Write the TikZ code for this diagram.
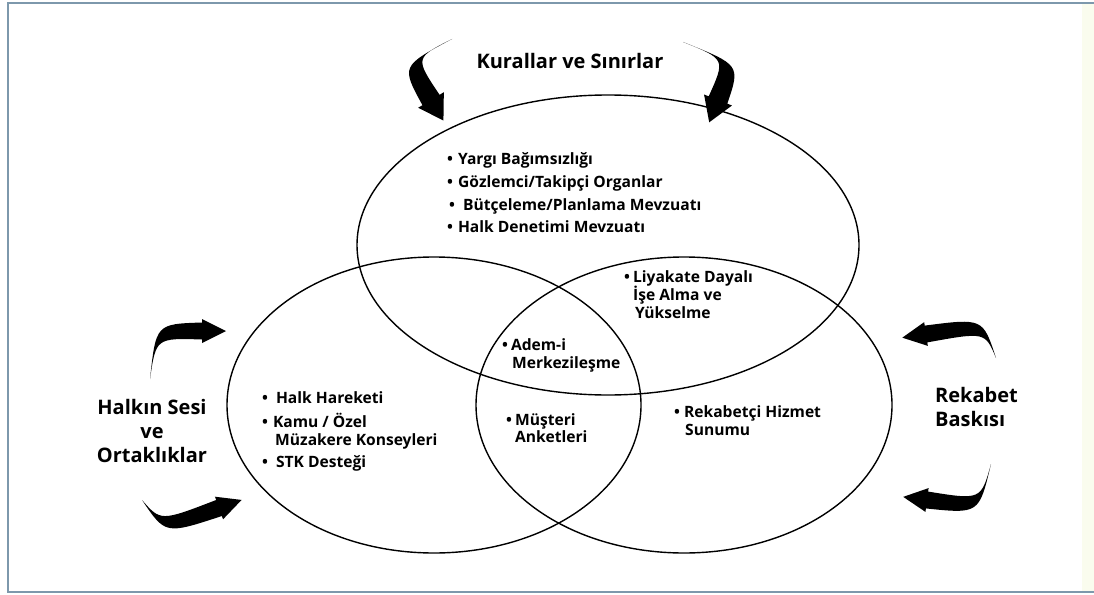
\documentclass[tikz,border=0pt]{standalone}
\usepackage{fontspec}
\setmainfont{Open Sans}
\usetikzlibrary{calc,shapes.geometric}
\definecolor{frame}{RGB}{125,152,172}
\definecolor{strip}{RGB}{250,252,238}
\newcommand\tarrow[7]{% tail, control, head base, body half width, control half width, head half width, head length
  \fill (#1) .. controls ($(#2)!#5!-90:(#3)$) .. ($(#3)!#4!90:(#2)$)
    -- ($(#3)!#6!90:(#2)$) -- ($(#3)!-#7!(#2)$) -- ($(#3)!#6!-90:(#2)$)
    -- ($(#3)!#4!-90:(#2)$) .. controls ($(#2)!#5!90:(#3)$) .. (#1) -- cycle;}
\begin{document}
\begin{tikzpicture}[x=1pt,y=-1pt,
  circ/.style={ellipse,draw,line width=1.4pt,inner sep=0pt},
  item/.style={font=\fontsize{15.6}{19}\selectfont\bfseries,inner sep=0pt,anchor=base west},
  lbl/.style={font=\fontsize{20}{24}\selectfont\bfseries,inner sep=0pt,anchor=base}]
\useasboundingbox (0,0) rectangle (1094,594);
\fill[strip] (1082,4) rectangle (1094,591);
\draw[frame,line width=2pt] (1094,3) -- (8,3) -- (8,592) -- (1094,592);
% circles
\node[circ,minimum width=502pt,minimum height=300pt] (top) at (608,245) {};
\node[circ,minimum width=414pt,minimum height=296pt] (left) at (434,405) {};
\node[circ,minimum width=416pt,minimum height=296pt] (right) at (684,405) {};
% title and side labels
\node[lbl] (title) at (570,68) {Kurallar ve Sınırlar};
\node[lbl] (hs1) at (152,414) {Halkın Sesi};
\node[lbl] (hs2) at (152,438) {ve};
\node[lbl] (hs3) at (152,462) {Ortaklıklar};
\node[item,font=\fontsize{20}{24}\selectfont\bfseries] (rb1) at (935,402) {Rekabet};
\node[item,font=\fontsize{20}{24}\selectfont\bfseries] (rb2) at (935,426) {Baskısı};
% top list
\node[item] (t1) at (447,164) {•\hspace{5pt}Yargı Bağımsızlığı};
\node[item] (t2) at (447,187) {•\hspace{5pt}Gözlemci/Takipçi Organlar};
\node[item] (t3) at (449,210) {•\hspace{8pt}Bütçeleme/Planlama Mevzuatı};
\node[item] (t4) at (447,232) {•\hspace{5pt}Halk Denetimi Mevzuatı};
% left list
\node[item] (l1) at (262,403) {•\hspace{8pt}Halk Hareketi};
\node[item] (l2) at (262,427) {•\hspace{5pt}Kamu / Özel};
\node[item] (l2b) at (275,445) {Müzakere Konseyleri};
\node[item] (l3) at (262,467) {•\hspace{8pt}STK Desteği};
% inner labels
\node[item] (m1) at (624,282) {•\hspace{3pt}Liyakate Dayalı};
\node[item] (m1b) at (633,300) {İşe Alma ve};
\node[item] (m1c) at (635,318) {Yükselme};
\node[item] (c1) at (502,350) {•\hspace{3pt}Adem-i};
\node[item] (c1b) at (512,368) {Merkezileşme};
\node[item] (b1) at (506,425) {•\hspace{3pt}Müşteri};
\node[item] (b1b) at (515,442) {Anketleri};
\node[item] (r1) at (674,417) {•\hspace{4pt}Rekabetçi Hizmet};
\node[item] (r1b) at (685,435) {Sunumu};
% arrows
\coordinate (a1t) at (452,39);  \coordinate (a1c) at (408,62);  \coordinate (a1h) at (431,100);
\coordinate (a2t) at (683,42);  \coordinate (a2c) at (733,62);  \coordinate (a2h) at (718,100);
\coordinate (a3t) at (150,379); \coordinate (a3c) at (156,331); \coordinate (a3h) at (202,331);
\coordinate (a4t) at (142,500); \coordinate (a4c) at (163,528); \coordinate (a4h) at (219,508);
\coordinate (a5t) at (996,358); \coordinate (a5c) at (984,325); \coordinate (a5h) at (926,334);
\coordinate (a6t) at (991,464); \coordinate (a6c) at (980,507); \coordinate (a6h) at (927,500);
\tarrow{a1t}{a1c}{a1h}{10pt}{8pt}{15pt}{24pt}
\tarrow{a2t}{a2c}{a2h}{10pt}{8pt}{15pt}{24pt}
\tarrow{a3t}{a3c}{a3h}{8.5pt}{7pt}{12pt}{24pt}
\tarrow{a4t}{a4c}{a4h}{8.5pt}{7pt}{12pt}{24pt}
\tarrow{a5t}{a5c}{a5h}{8.5pt}{7pt}{12pt}{24pt}
\tarrow{a6t}{a6c}{a6h}{8.5pt}{7pt}{12pt}{24pt}
\end{tikzpicture}
\end{document}
